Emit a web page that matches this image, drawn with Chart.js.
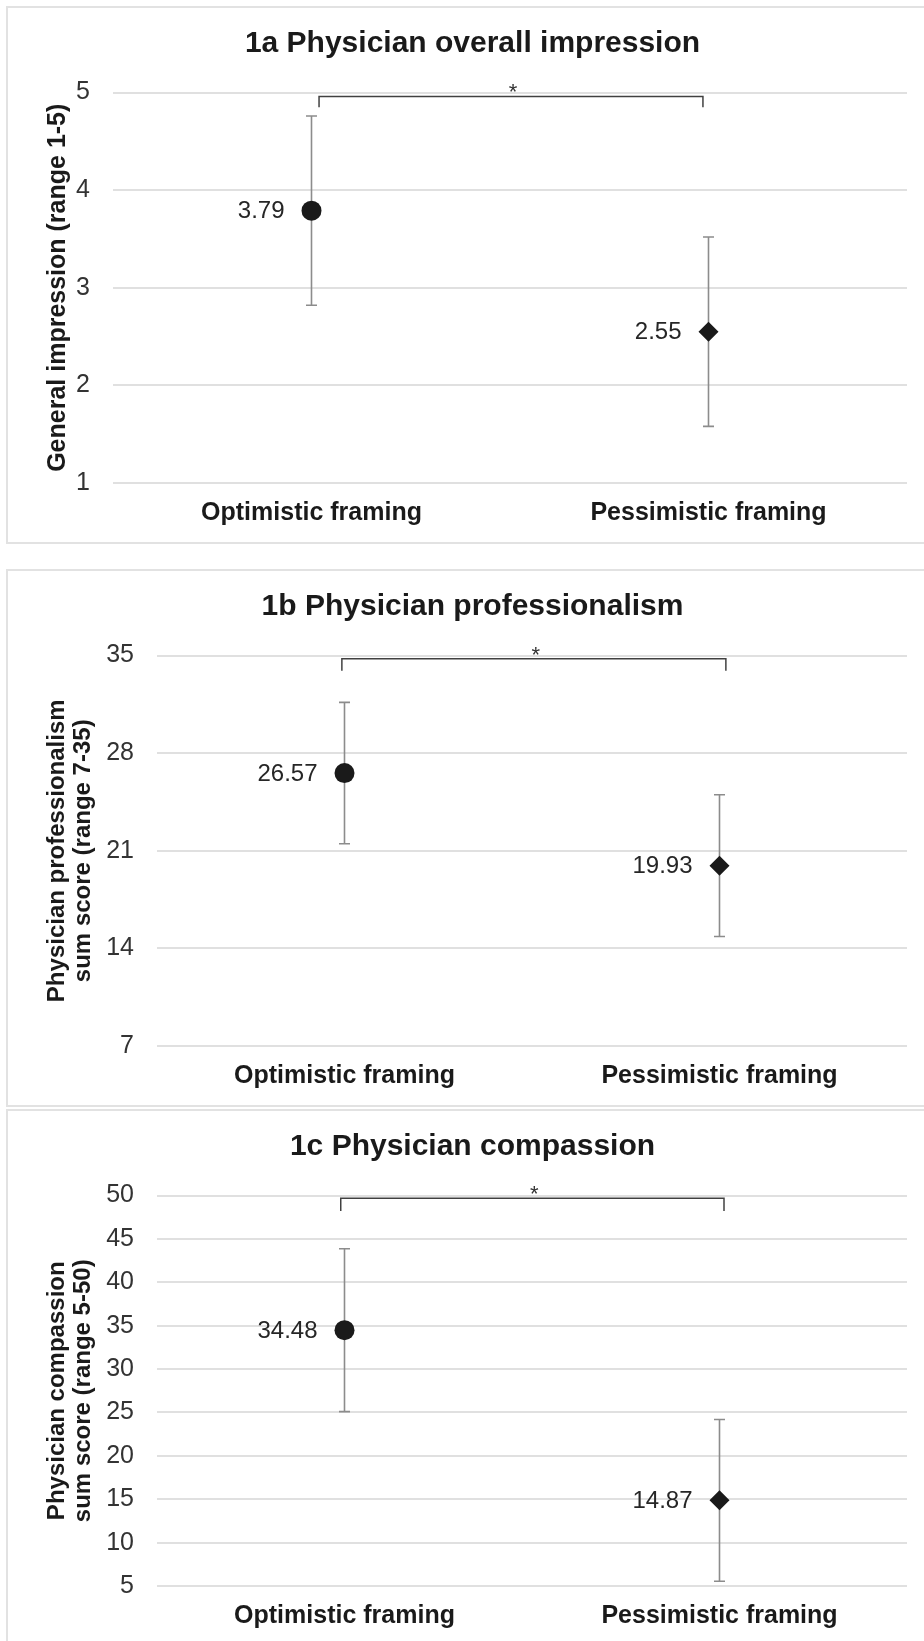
<!DOCTYPE html>
<html>
<head>
<meta charset="utf-8">
<script src="https://cdn.jsdelivr.net/npm/chart.js@4.4.1/dist/chart.umd.min.js"></script>
<style>
  html, body { margin: 0; padding: 0; background: #fff; overflow: hidden; }
  body { width: 924px; height: 1641px; position: relative; }
  .panel { position: absolute; left: 6px; border: 2px solid #e2e2e2; width: 929px; height: 534px; }
  .panel canvas { display: block; }
</style>
</head>
<body>
<div class="panel" style="top:6px"><canvas id="chart-1a" width="929" height="534"></canvas></div>
<div class="panel" style="top:569px"><canvas id="chart-1b" width="929" height="534"></canvas></div>
<div class="panel" style="top:1109px"><canvas id="chart-1c" width="929" height="534"></canvas></div>
<script>
// values
const categories = ['Optimistic framing', 'Pessimistic framing'];

const title1a = '1a Physician overall impression';
const title1b = '1b Physician professionalism';
const title1c = '1c Physician compassion';

const yTitle1a = 'General impression (range 1-5)';
const yTitle1b = ['Physician professionalism', 'sum score (range 7-35)'];
const yTitle1c = ['Physician compassion', 'sum score (range 5-50)'];

const means1a = [3.79, 2.55];
const sd1a = [0.97, 0.97];
const means1b = [26.57, 19.93];
const sd1b = [5.07, 5.08];
const means1c = [34.48, 14.87];
const sd1c = [9.38, 9.32];

// min, max, step of each y axis
const yRange1a = [1, 5, 1];
const yRange1b = [7, 35, 7];
const yRange1c = [5, 50, 5];

// significance brackets (x in category units, 0 = optimistic, 1 = pessimistic)
const bracketX1a = [0.019, 0.019, 0.986, 0.986];
const bracketY1a = [4.85, 4.96, 4.96, 4.85];
const bracketX1b = [-0.007, -0.007, 1.017, 1.017];
const bracketY1b = [33.91, 34.76, 34.76, 33.91];
const bracketX1c = [-0.01, -0.01, 1.012, 1.012];
const bracketY1c = [48.2, 49.68, 49.68, 48.2];

const FONT = '"Liberation Sans", Arial, sans-serif';

// error bars, value labels and the asterisk
const errorBarPlugin = {
    id: 'errorbars',
    beforeDatasetsDraw(chart, args, opts) {
        const { ctx, scales: { x, y } } = chart;
        ctx.save();
        ctx.strokeStyle = '#8c8c8c';
        ctx.lineWidth = 1.6;
        opts.means.forEach((m, i) => {
            const px = x.getPixelForValue(i);
            const top = y.getPixelForValue(m + opts.sd[i]);
            const bot = y.getPixelForValue(m - opts.sd[i]);
            ctx.beginPath();
            ctx.moveTo(px, top); ctx.lineTo(px, bot);
            ctx.moveTo(px - 5.5, top); ctx.lineTo(px + 5.5, top);
            ctx.moveTo(px - 5.5, bot); ctx.lineTo(px + 5.5, bot);
            ctx.stroke();
        });
        ctx.restore();
    },
    afterDatasetsDraw(chart, args, opts) {
        const { ctx, scales: { x, y } } = chart;
        ctx.save();
        ctx.fillStyle = '#262626';
        ctx.font = '24px ' + FONT;
        ctx.textAlign = 'right';
        ctx.textBaseline = 'middle';
        opts.means.forEach((m, i) => {
            ctx.fillText(m.toFixed(2), x.getPixelForValue(i) - 27, y.getPixelForValue(m) + 1);
        });
        // asterisk over the bracket
        const bx = (Math.min(...opts.bracketX) + Math.max(...opts.bracketX)) / 2;
        ctx.font = '22px ' + FONT;
        ctx.fillStyle = '#333';
        ctx.textAlign = 'center';
        ctx.fillText('*', x.getPixelForValue(bx) + 2, y.getPixelForValue(Math.max(...opts.bracketY)) - 3);
        ctx.restore();
    }
};

function makeChart(id, title, yTitle, means, sd, yRange, bracketX, bracketY, yWidth, yTitleSize, yTitlePad) {
    const ctx = document.getElementById(id).getContext('2d');
    return new Chart(ctx, {
        type: 'scatter',
        data: {
            datasets: [
                {
                    type: 'line',
                    data: bracketX.map((bx, i) => ({ x: bx, y: bracketY[i] })),
                    borderColor: '#404040',
                    borderWidth: 1.5,
                    pointRadius: 0,
                    tension: 0,
                    fill: false
                },
                {
                    data: means.map((m, i) => ({ x: i, y: m })),
                    pointStyle: ['circle', 'rectRot'],
                    pointRadius: 10,
                    pointHoverRadius: 10,
                    backgroundColor: '#1a1a1a',
                    borderColor: '#1a1a1a',
                    borderWidth: 0
                }
            ]
        },
        options: {
            responsive: false,
            animation: false,
            devicePixelRatio: 1,
            layout: { padding: 0 },
            plugins: {
                legend: { display: false },
                tooltip: { enabled: false },
                title: {
                    display: true,
                    text: title,
                    color: '#1a1a1a',
                    font: { family: FONT, size: 30, weight: 'bold', lineHeight: 1.2 },
                    padding: { top: 18, bottom: 30.5 }
                },
                errorbars: { means, sd, bracketX, bracketY }
            },
            scales: {
                x: {
                    type: 'linear',
                    min: -0.5,
                    max: 1.5,
                    afterBuildTicks: s => { s.ticks = [{ value: 0 }, { value: 1 }]; },
                    afterFit: s => { s.height = 59; },
                    grid: { display: false, drawTicks: false },
                    border: { display: false },
                    ticks: {
                        callback: v => categories[v],
                        autoSkip: false,
                        maxRotation: 0,
                        padding: 15,
                        color: '#1a1a1a',
                        font: { family: FONT, size: 25, weight: 'bold', lineHeight: 1.2 }
                    }
                },
                y: {
                    min: yRange[0],
                    max: yRange[1],
                    afterFit: s => { s.width = yWidth; },
                    grid: { color: '#e0e0e0', lineWidth: 2, drawTicks: false },
                    border: { display: false },
                    ticks: {
                        stepSize: yRange[2],
                        padding: 23,
                        color: '#333',
                        font: { family: FONT, size: 25, lineHeight: 1.2 }
                    },
                    title: {
                        display: true,
                        text: yTitle,
                        color: '#1a1a1a',
                        font: { family: FONT, size: yTitleSize, weight: 'bold', lineHeight: 26 / yTitleSize },
                        padding: { top: yTitlePad, bottom: 0 }
                    }
                },
                yRight: {
                    position: 'right',
                    afterFit: s => { s.width = 30; },
                    grid: { display: false, drawTicks: false },
                    border: { display: false },
                    ticks: { display: false }
                }
            }
        },
        plugins: [errorBarPlugin]
    });
}

makeChart('chart-1a', title1a, yTitle1a, means1a, sd1a, yRange1a, bracketX1a, bracketY1a, 105, 25, 37);
makeChart('chart-1b', title1b, yTitle1b, means1b, sd1b, yRange1b, bracketX1b, bracketY1b, 149, 24, 36);
makeChart('chart-1c', title1c, yTitle1c, means1c, sd1c, yRange1c, bracketX1c, bracketY1c, 149, 24, 36);
</script>
</body>
</html>
